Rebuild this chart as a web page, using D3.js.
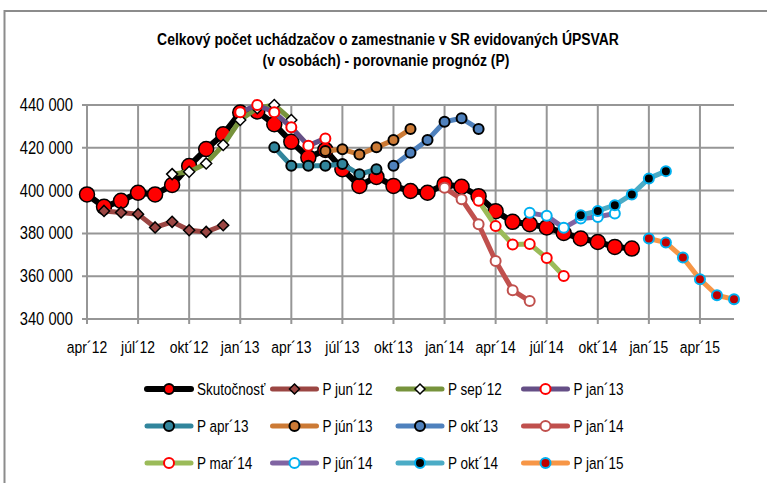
<!DOCTYPE html>
<html>
<head>
<meta charset="utf-8">
<script src="https://cdn.jsdelivr.net/npm/d3@7"></script>
<style>
body { margin: 0; background: #fff; }
text { font-family: "Liberation Sans Narrow", "Arial Narrow", "Liberation Sans", Arial, sans-serif; fill: #000; }
</style>
</head>
<body>
<div id="chart"></div>
<script>
var months = ["apr´12", "máj´12", "jún´12", "júl´12", "aug´12", "sep´12", "okt´12", "nov´12", "dec´12",
	"jan´13", "feb´13", "mar´13", "apr´13", "máj´13", "jún´13", "júl´13", "aug´13", "sep´13", "okt´13", "nov´13", "dec´13",
	"jan´14", "feb´14", "mar´14", "apr´14", "máj´14", "jún´14", "júl´14", "aug´14", "sep´14", "okt´14", "nov´14", "dec´14",
	"jan´15", "feb´15", "mar´15", "apr´15", "máj´15", "jún´15"];
var tick_labels = ["apr´12", "júl´12", "okt´12", "jan´13", "apr´13", "júl´13", "okt´13", "jan´14", "apr´14", "júl´14", "okt´14", "jan´15", "apr´15"];
var y_ticks = [340000, 360000, 380000, 400000, 420000, 440000];

var names = ["Skutočnosť", "P jun´12", "P sep´12", "P jan´13", "P apr´13", "P jún´13", "P okt´13", "P jan´14", "P mar´14", "P jún´14", "P okt´14", "P jan´15"];
// first month index of every series
var starts = [0, 1, 5, 9, 11, 14, 18, 21, 23, 26, 29, 33];

var skutocnost = [398200, 392400, 395200, 399000, 398200, 402600, 411500, 419400, 426300, 436500, 437000, 431000,
	422800, 415500, 419000, 410000, 402200, 406400, 402200, 399800, 399000, 402900, 401800, 397400, 390400, 385400,
	384300, 382800, 380200, 377600, 376000, 373700, 372900];
var p_jun12 = [390500, 389800, 389000, 382800, 385400, 381500, 380700, 383800];
var p_sep12 = [407700, 408800, 412700, 421300, 433000, 438500, 440000, 433000];
var p_jan13 = [436600, 440000, 436600, 429600, 421000, 424400];
var p_apr13 = [420200, 411600, 411600, 411600, 412400, 407600, 410000];
var p_jun13 = [418500, 419300, 416900, 420200, 423600, 428800];
var p_okt13 = [411600, 417700, 423600, 432200, 433800, 428800];
var p_jan14 = [401300, 396000, 384300, 367100, 353400, 348400];
var p_mar14 = [395200, 383400, 374800, 375100, 368500, 360100];
var p_jun14 = [389600, 388200, 382600, 387000, 387700, 389300];
var p_okt14 = [388500, 390500, 393200, 398200, 405700, 409100];
var p_jan15 = [377600, 375700, 368700, 358600, 351100, 349200];

var values = [skutocnost, p_jun12, p_sep12, p_jan13, p_apr13, p_jun13, p_okt13, p_jan14, p_mar14, p_jun14, p_okt14, p_jan15];

// line colour, marker shape, marker fill, marker stroke
var styles = [
	{ line: "#000000", shape: "circle", fill: "#ff0000", stroke: "#000000", lw: 6, r: 7.5 },
	{ line: "#9b4643", shape: "diamond", fill: "#9b4643", stroke: "#000000", lw: 5, r: 5.5 },
	{ line: "#77933c", shape: "diamond", fill: "#ffffff", stroke: "#000000", lw: 5, r: 5.5 },
	{ line: "#654f86", shape: "circle", fill: "#ffffff", stroke: "#ff0000", lw: 5, r: 5 },
	{ line: "#31859c", shape: "circle", fill: "#31859c", stroke: "#000000", lw: 5, r: 5 },
	{ line: "#cc7a35", shape: "circle", fill: "#cc7a35", stroke: "#000000", lw: 5, r: 5 },
	{ line: "#4f81bd", shape: "circle", fill: "#4f81bd", stroke: "#000000", lw: 5, r: 5 },
	{ line: "#c0504d", shape: "circle", fill: "#ffffff", stroke: "#c0504d", lw: 5, r: 5 },
	{ line: "#9bbb59", shape: "circle", fill: "#ffffff", stroke: "#ff0000", lw: 5, r: 5 },
	{ line: "#8064a2", shape: "circle", fill: "#ffffff", stroke: "#00b0f0", lw: 5, r: 5 },
	{ line: "#4bacc6", shape: "circle", fill: "#000000", stroke: "#00b0f0", lw: 5, r: 5 },
	{ line: "#f79646", shape: "circle", fill: "#c00000", stroke: "#00b0f0", lw: 5, r: 5 }
];

// no narrow font installed, so squeeze the text horizontally
var narrow = 0.82;

function forecast_chart(width, height, tag) {
	this.width = width;
	this.height = height;
	this.svg = d3.select(tag)
		.append("svg")
		.attr("width", width)
		.attr("height", height);
	this.init();
}

forecast_chart.prototype = {
	init : function() {
		var self = this;
		self.x = d3.scalePoint().domain(months).range([87, 734]);
		self.y = d3.scaleLinear().domain([340000, 440000]).range([319, 105]);
		self.sdata = names.map(function(n, k) {
			return {
				name : n,
				style : styles[k],
				points : values[k].map(function(v, j) {
					return { m : months[starts[k] + j], v : v };
				})
			};
		});
	},
	place : function(xx, yy) {
		return "translate(" + xx + "," + yy + ") scale(" + narrow + ",1)";
	},
	marker : function(sel, st) {
		if (st.shape == "diamond") {
			sel.append("path")
				.attr("d", "M0," + (-st.r) + "L" + st.r + ",0L0," + st.r + "L" + (-st.r) + ",0Z")
				.attr("fill", st.fill)
				.attr("stroke", st.stroke)
				.attr("stroke-width", 1.5);
		} else {
			sel.append("circle")
				.attr("r", st.r)
				.attr("fill", st.fill)
				.attr("stroke", st.stroke)
				.attr("stroke-width", st.r > 6 ? 1.5 : 2);
		}
	},
	draw : function() {
		var self = this;
		var svg = self.svg;

		// outer frame
		svg.append("rect")
			.attr("x", 4.5).attr("y", 11)
			.attr("width", 800).attr("height", 500)
			.attr("fill", "none")
			.attr("stroke", "#8c8c8c")
			.attr("stroke-width", 2);

		svg.append("text")
			.attr("transform", self.place(388, 45))
			.attr("text-anchor", "middle")
			.style("font-weight", "bold")
			.style("font-size", "17px")
			.text("Celkový počet uchádzačov o zamestnanie v SR evidovaných ÚPSVAR");
		svg.append("text")
			.attr("transform", self.place(386, 66))
			.attr("text-anchor", "middle")
			.style("font-weight", "bold")
			.style("font-size", "17px")
			.text("(v osobách) - porovnanie prognóz (P)");

		var grid = svg.append("g").attr("stroke", "#969696").attr("stroke-width", 2);
		grid.selectAll("line.h")
			.data(y_ticks)
			.enter()
			.append("line")
			.attr("class", "h")
			.attr("x1", 82).attr("x2", 734)
			.attr("y1", function(d) { return self.y(d); })
			.attr("y2", function(d) { return self.y(d); });
		grid.selectAll("line.v")
			.data(tick_labels)
			.enter()
			.append("line")
			.attr("class", "v")
			.attr("x1", function(d) { return self.x(d); })
			.attr("x2", function(d) { return self.x(d); })
			.attr("y1", 105).attr("y2", 324);

		svg.selectAll("text.ylab")
			.data(y_ticks)
			.enter()
			.append("text")
			.attr("class", "ylab")
			.attr("transform", function(d) { return self.place(73, self.y(d) + 6); })
			.attr("text-anchor", "end")
			.style("font-size", "18px")
			.text(function(d) { return d3.format(",")(d).replace(",", " "); });

		svg.selectAll("text.xlab")
			.data(tick_labels)
			.enter()
			.append("text")
			.attr("class", "xlab")
			.attr("transform", function(d) { return self.place(self.x(d), 353); })
			.attr("text-anchor", "middle")
			.style("font-size", "17px")
			.text(function(d) { return d; });

		var line = d3.line()
			.x(function(d) { return self.x(d.m); })
			.y(function(d) { return self.y(d.v); });

		var series = svg.selectAll("g.series")
			.data(self.sdata)
			.enter()
			.append("g")
			.attr("class", "series");
		series.append("path")
			.attr("d", function(d) { return line(d.points); })
			.attr("fill", "none")
			.attr("stroke", function(d) { return d.style.line; })
			.attr("stroke-width", function(d) { return d.style.lw; })
			.attr("stroke-linejoin", "round");
		series.each(function(d) {
			var g = d3.select(this);
			d.points.forEach(function(p) {
				var m = g.append("g").attr("transform", "translate(" + self.x(p.m) + "," + self.y(p.v) + ")");
				self.marker(m, d.style);
			});
		});

		// legend, 4 columns x 3 rows
		var leg = svg.selectAll("g.leg")
			.data(self.sdata)
			.enter()
			.append("g")
			.attr("class", "leg")
			.attr("transform", function(d, i) {
				var xx = 147 + (i % 4) * 125.5;
				var yy = 389 + Math.floor(i / 4) * 37;
				return "translate(" + xx + "," + yy + ")";
			});
		leg.append("line")
			.attr("x1", 0).attr("x2", 44)
			.attr("stroke", function(d) { return d.style.line; })
			.attr("stroke-width", function(d) { return d.style.lw; })
			.attr("stroke-linecap", "round");
		leg.each(function(d) {
			var m = d3.select(this).append("g").attr("transform", "translate(22,0)");
			var st = Object.assign({}, d.style, { r: 5 });
			self.marker(m, st);
		});
		leg.append("text")
			.attr("transform", self.place(50, 6))
			.style("font-size", "16.5px")
			.text(function(d) { return d.name; });
	}
};

var chart = new forecast_chart(767, 483, "#chart");
chart.draw();
</script>
</body>
</html>
